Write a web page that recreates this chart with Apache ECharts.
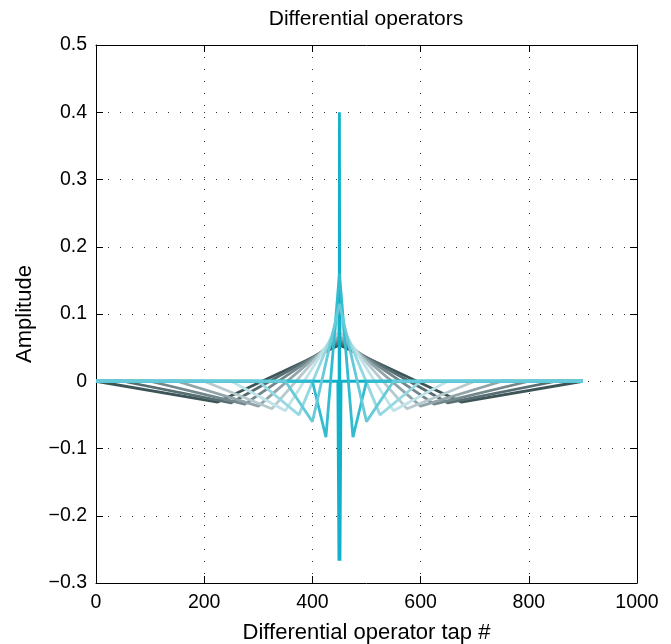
<!DOCTYPE html>
<html>
<head>
<meta charset="utf-8">
<script src="https://cdn.jsdelivr.net/npm/echarts@6/dist/echarts.min.js"></script>
<style>
html,body{margin:0;padding:0;background:#fff;}
#chart{width:671px;height:644px;}
</style>
</head>
<body>
<div id="chart"></div>
<script>
// ---- data ----
const centerTap = 450;
const lastTap = 900;
// node positions of each operator (left half; right half mirrors around centerTap)
const startX = [0, 50, 100, 150, 200, 250, 300, 350, 400, 447];
const minX   = [225, 250, 275, 300, 325, 350, 375, 400, 425, 449];
const minY   = [-0.031, -0.032, -0.034, -0.037, -0.041, -0.044, -0.050, -0.060, -0.083, -0.267];
const peakY  = [0.054, 0.058, 0.062, 0.067, 0.074, 0.083, 0.095, 0.115, 0.160, 0.400];
const lineColors = ['#3e5558', '#566d72', '#71878c', '#90a4a9', '#b6cace', '#bfe3e9', '#96d8e1', '#66cad8', '#33bcd0', '#10b2ca'];
// stacking order of the operators (bottom to top)
const drawOrder = [0, 1, 2, 3, 4, 5, 6, 9, 8, 7];
const xTickMin = 0, xTickMax = 1000, xTickStep = 200;
const yTickMin = -0.3, yTickMax = 0.5, yTickStep = 0.1;

function operatorPoints(i) {
  const s = startX[i], m = minX[i];
  return [
    [0, 0],
    [s, 0],
    [m, minY[i]],
    [centerTap, peakY[i]],
    [2 * centerTap - m, minY[i]],
    [2 * centerTap - s, 0],
    [lastTap, 0]
  ];
}

const FONT = 'Liberation Sans, Arial, Helvetica, sans-serif';
const dotted = { color: '#333', width: 1, type: [1, 11] };

const chart = echarts.init(document.getElementById('chart'), null, { renderer: 'canvas' });

const series = drawOrder.map((i, k) => ({
  type: 'line',
  data: operatorPoints(i),
  showSymbol: false,
  symbol: 'none',
  lineStyle: { color: lineColors[i], width: 2.8 },
  z: 2 + k,
  silent: true
}));

const yFmt = v => {
  const r = Math.round(v * 10) / 10;
  return (r === 0 ? '0' : String(r)).replace('-', '\u2212');
};
const xFmt = v => String(Math.round(v));

chart.setOption({
  animation: false,
  backgroundColor: '#fff',
  textStyle: { fontFamily: FONT },
  title: {
    text: 'Differential operators',
    left: 361,
    top: 4,
    textAlign: 'center',
    textStyle: { fontFamily: FONT, fontSize: 21, fontWeight: 'normal', color: '#000' }
  },
  grid: { left: 96, right: 34, top: 45, bottom: 61, containLabel: false, outerBoundsMode: 'none' },
  xAxis: [
    {
      type: 'value', min: xTickMin, max: xTickMax, interval: xTickStep,
      position: 'bottom',
      name: 'Differential operator tap #', nameLocation: 'middle', nameGap: 39,
      nameTextStyle: { fontFamily: FONT, fontSize: 22, color: '#000' },
      axisLine: { show: true, onZero: false, lineStyle: { color: '#000', width: 1 } },
      axisTick: { show: true, inside: true, length: 7, lineStyle: { color: '#000' } },
      axisLabel: { color: '#000', fontSize: 19.5, margin: 10, fontFamily: FONT, formatter: xFmt },
      splitLine: { show: true, lineStyle: dotted }
    },
    {
      type: 'value', min: xTickMin, max: xTickMax, interval: xTickStep,
      position: 'top',
      axisLine: { show: true, onZero: false, lineStyle: { color: '#000', width: 1 } },
      axisTick: { show: true, inside: true, length: 7, lineStyle: { color: '#000' } },
      axisLabel: { show: false },
      splitLine: { show: false }
    }
  ],
  yAxis: [
    {
      type: 'value', min: yTickMin, max: yTickMax, interval: yTickStep,
      position: 'left',
      name: 'Amplitude', nameLocation: 'middle', nameGap: 60,
      nameTextStyle: { fontFamily: FONT, fontSize: 22, color: '#000' },
      axisLine: { show: true, onZero: false, lineStyle: { color: '#000', width: 1 } },
      axisTick: { show: true, inside: true, length: 7, lineStyle: { color: '#000' } },
      axisLabel: { color: '#000', fontSize: 19.5, margin: 9, fontFamily: FONT, formatter: yFmt },
      splitLine: { show: true, lineStyle: dotted }
    },
    {
      type: 'value', min: yTickMin, max: yTickMax, interval: yTickStep,
      position: 'right',
      axisLine: { show: true, onZero: false, lineStyle: { color: '#000', width: 1 } },
      axisTick: { show: true, inside: true, length: 7, lineStyle: { color: '#000' } },
      axisLabel: { show: false },
      splitLine: { show: false }
    }
  ],
  series: series
});
</script>
</body>
</html>
